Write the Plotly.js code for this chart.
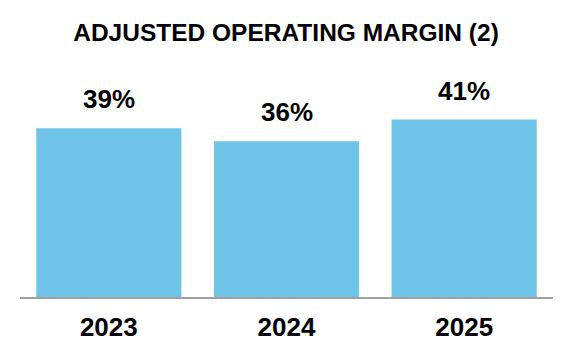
<!DOCTYPE html>
<html>
<head>
<meta charset="utf-8">
<script src="https://cdn.plot.ly/plotly-3.0.1.min.js"></script>
<style>html,body{margin:0;padding:0;background:#fff;}#chart{width:572px;height:364px;}</style>
</head>
<body>
<div id="chart"></div>
<script>
const categories = ["2023", "2024", "2025"];
const margins = [39, 36, 41];
const valueLabels = ["39%", "36%", "41%"];
const chartTitle = "ADJUSTED OPERATING MARGIN (2)";

const FONT = '"Liberation Sans", Arial, Helvetica, sans-serif';

const trace = {
  type: 'bar',
  x: categories,
  y: margins,
  marker: { color: '#6fc4e8', line: { width: 0 } },
  hoverinfo: 'skip'
};

const annotations = [];
for (let i = 0; i < categories.length; i++) {
  annotations.push({
    x: i, y: margins[i], xref: 'x', yref: 'y',
    text: '<b>' + valueLabels[i] + '</b>', showarrow: false,
    yanchor: 'bottom', xanchor: 'center', yshift: 12,
    font: { family: FONT, size: 26, color: '#000000' }
  });
}

const layout = {
  width: 572, height: 364,
  paper_bgcolor: '#fff', plot_bgcolor: '#fff',
  margin: { l: 20, r: 19, t: 59, b: 67, pad: 0 },
  showlegend: false,
  bargap: 0.183,
  title: {
    text: '<b>' + chartTitle + '</b>',
    x: 0.5, xref: 'container', xanchor: 'center',
    y: 1 - 32 / 364, yref: 'container', yanchor: 'middle',
    font: { family: FONT, size: 24.5, color: '#000' }
  },
  xaxis: {
    type: 'category',
    range: [-0.5, 2.5],
    showline: true, linecolor: '#a0a0a0', linewidth: 2,
    showgrid: false, zeroline: false, ticks: '',
    tickfont: { family: FONT, size: 26, color: '#000', weight: 'bold' },
    ticklabelstandoff: 6,
    fixedrange: true
  },
  yaxis: {
    range: [0, 55], visible: false, showgrid: false, zeroline: false, fixedrange: true
  },
  annotations: annotations
};

Plotly.newPlot('chart', [trace], layout, { displayModeBar: false, staticPlot: true });
</script>
</body>
</html>
